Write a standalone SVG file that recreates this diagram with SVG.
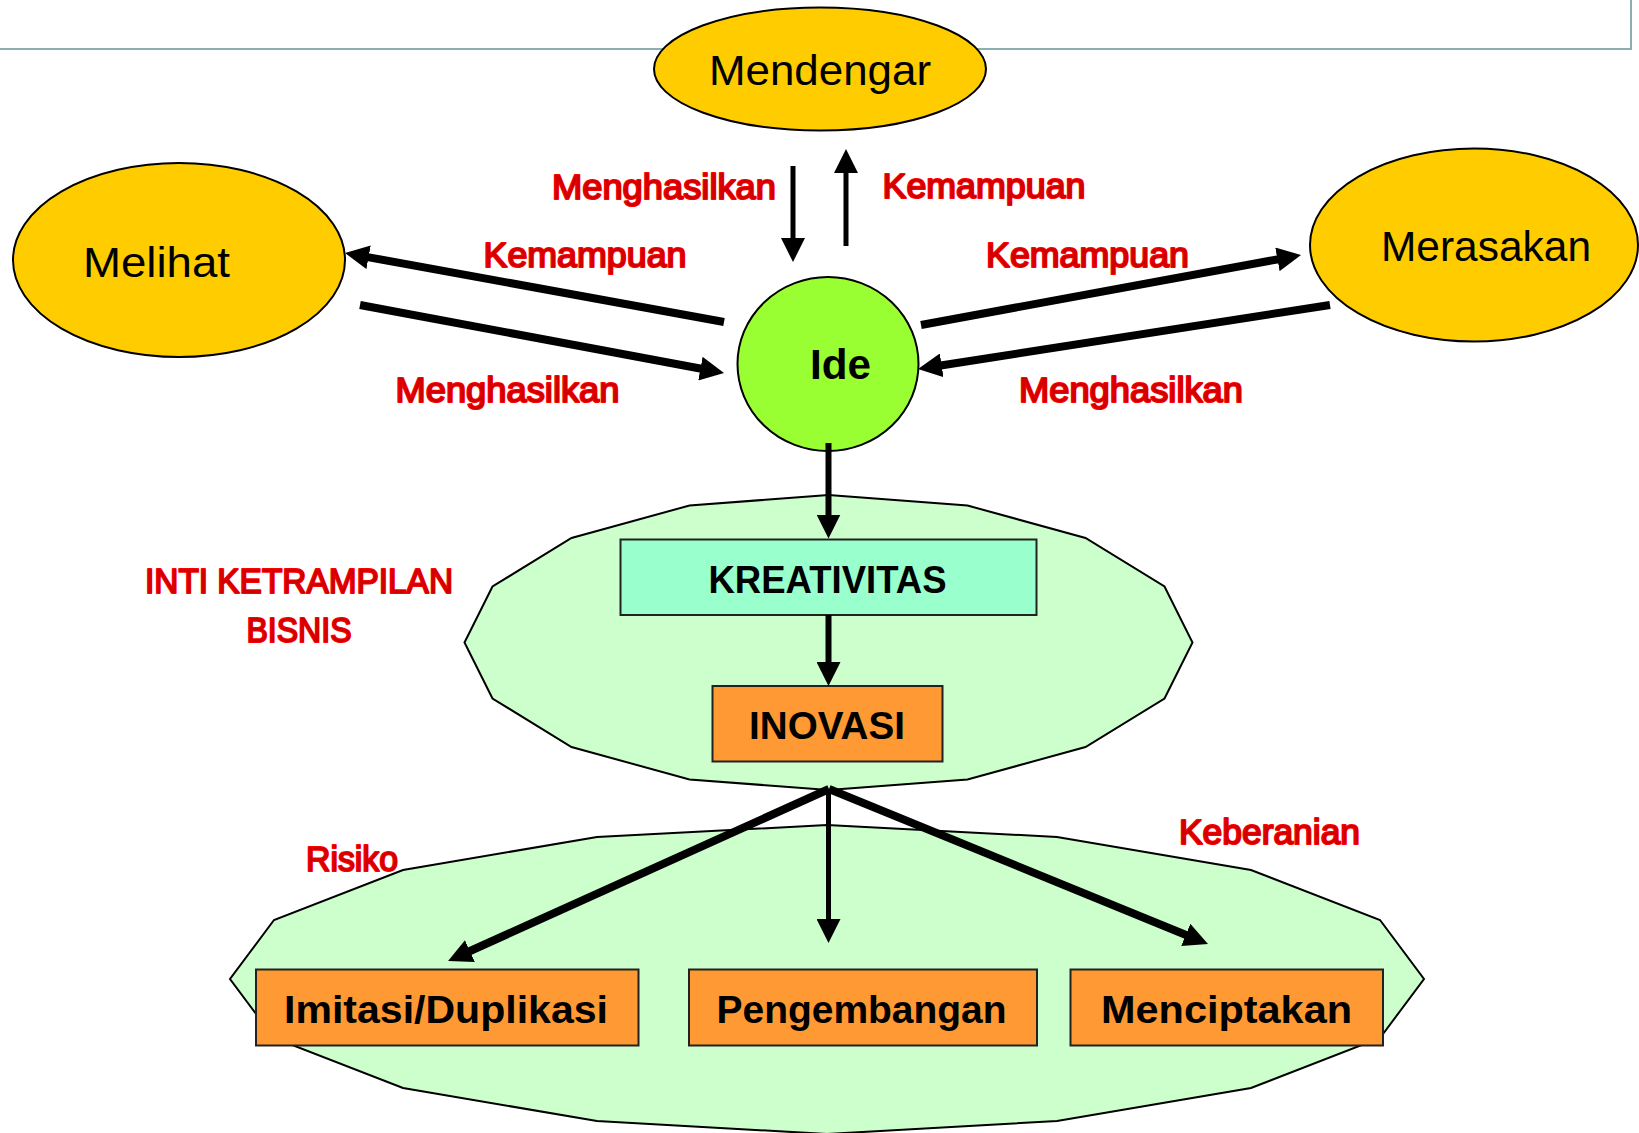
<svg xmlns="http://www.w3.org/2000/svg" width="1639" height="1133" viewBox="0 0 1639 1133">
<style>
.ell{fill:#FFCC00;stroke:#000;stroke-width:2}
.nt{font-family:"Liberation Sans",Arial,sans-serif;font-size:42px;fill:#000;text-anchor:middle}
.bt{font-family:"Liberation Sans",Arial,sans-serif;font-weight:bold;font-size:38px;fill:#000;text-anchor:middle}
.box{stroke:#222;stroke-width:2}
.lbl{font-family:"Liberation Sans",Arial,sans-serif;font-size:35px;fill:#D00000;stroke:#FF0000;stroke-width:2;paint-order:stroke;stroke-linejoin:round;text-anchor:middle}
.poly{fill:#CCFFCC;stroke:#000;stroke-width:2}
.a{stroke:#000;fill:none;marker-end:url(#ah)}
</style>
<defs>
<marker id="ah" markerUnits="userSpaceOnUse" markerWidth="24" markerHeight="24" viewBox="0 -12 24 24" refX="1" refY="0" orient="auto">
<path d="M0,-12 L24,0 L0,12 z" fill="#000"/>
</marker>
</defs>

<g id="frame">
<path d="M0,49 L1631,49 L1631,0" fill="none" stroke="#8AB0B2" stroke-width="2"/>
</g>

<g id="core-region">
<polygon class="poly" points="828.5,495 967.5,505.5 1085.5,538 1164.5,586.5 1192.5,642.5 1164.5,698.5 1085.5,747 967.5,779.5 828.5,790 689.5,779.5 571.5,747 492.5,698.5 464.5,642.5 492.5,586.5 571.5,538 689.5,505.5"/>
</g>
<g id="outcome-region">
<polygon class="poly" points="827,825 1057,837 1251,870 1380,920 1424,979 1380,1038 1251,1088 1057,1121 827,1134 597,1121 403,1088 274,1038 230,979 274,920 403,870 597,837"/>
</g>

<g id="mendengar">
<ellipse class="ell" cx="820" cy="69" rx="166" ry="61.5"/>
<text class="nt" x="820" y="85" textLength="222" lengthAdjust="spacingAndGlyphs">Mendengar</text>
</g>
<g id="melihat">
<ellipse class="ell" cx="179" cy="260" rx="166" ry="97"/>
<text class="nt" x="156.5" y="277" textLength="147" lengthAdjust="spacingAndGlyphs">Melihat</text>
</g>
<g id="merasakan">
<ellipse class="ell" cx="1474" cy="245" rx="164" ry="96.5"/>
<text class="nt" x="1486" y="261" textLength="210" lengthAdjust="spacingAndGlyphs">Merasakan</text>
</g>
<g id="ide">
<ellipse cx="828" cy="364" rx="90.5" ry="87" fill="#99FF33" stroke="#000" stroke-width="2"/>
<text class="nt" x="840.5" y="379" font-weight="bold" textLength="61" lengthAdjust="spacingAndGlyphs">Ide</text>
</g>
<g id="kreativitas">
<rect class="box" x="620.5" y="539.5" width="416" height="75.5" fill="#99FFCC"/>
<text class="bt" x="827.5" y="592.5" textLength="238" lengthAdjust="spacingAndGlyphs">KREATIVITAS</text>
</g>
<g id="inovasi">
<rect class="box" x="712.5" y="686" width="230" height="75.5" fill="#FF9933"/>
<text class="bt" x="827" y="738.5" textLength="156" lengthAdjust="spacingAndGlyphs">INOVASI</text>
</g>
<g id="imitasi">
<rect class="box" x="256" y="969.5" width="382.5" height="76" fill="#FF9933"/>
<text class="bt" x="446" y="1022.5" textLength="324" lengthAdjust="spacingAndGlyphs">Imitasi/Duplikasi</text>
</g>
<g id="pengembangan">
<rect class="box" x="689" y="969.5" width="348" height="76" fill="#FF9933"/>
<text class="bt" x="861.5" y="1022.5" textLength="290" lengthAdjust="spacingAndGlyphs">Pengembangan</text>
</g>
<g id="menciptakan">
<rect class="box" x="1070.5" y="969.5" width="312.5" height="76" fill="#FF9933"/>
<text class="bt" x="1226.5" y="1022.5" textLength="251" lengthAdjust="spacingAndGlyphs">Menciptakan</text>
</g>

<g id="connectors">
<line class="a" x1="793" y1="166" x2="793" y2="239" stroke-width="5"/>
<line class="a" x1="846" y1="246" x2="846" y2="172" stroke-width="5"/>
<line class="a" x1="724" y1="322" x2="367.6" y2="257.1" stroke-width="8"/>
<line class="a" x1="360" y1="305" x2="701.4" y2="368.8" stroke-width="8"/>
<line class="a" x1="921" y1="325" x2="1278.4" y2="259.2" stroke-width="8"/>
<line class="a" x1="1330" y1="305" x2="940.7" y2="365.5" stroke-width="8"/>
<line class="a" x1="828.5" y1="443" x2="828.5" y2="515.5" stroke-width="6"/>
<line class="a" x1="828.5" y1="615" x2="828.5" y2="663" stroke-width="6"/>
<line class="a" x1="829" y1="789" x2="469" y2="951.5" stroke-width="8"/>
<line class="a" x1="828.5" y1="789" x2="828.5" y2="920" stroke-width="5"/>
<line class="a" x1="829" y1="789" x2="1186.7" y2="935.3" stroke-width="8"/>
</g>

<g id="labels">
<text class="lbl" x="664" y="199" textLength="224" lengthAdjust="spacingAndGlyphs">Menghasilkan</text>
<text class="lbl" x="984" y="198" textLength="203" lengthAdjust="spacingAndGlyphs">Kemampuan</text>
<text class="lbl" x="585" y="266.5" textLength="203" lengthAdjust="spacingAndGlyphs">Kemampuan</text>
<text class="lbl" x="1087.5" y="266.5" textLength="203" lengthAdjust="spacingAndGlyphs">Kemampuan</text>
<text class="lbl" x="507.5" y="401.5" textLength="224" lengthAdjust="spacingAndGlyphs">Menghasilkan</text>
<text class="lbl" x="1131" y="401.5" textLength="224" lengthAdjust="spacingAndGlyphs">Menghasilkan</text>
<text class="lbl" x="299" y="592.5" font-size="32.5" textLength="308" lengthAdjust="spacingAndGlyphs">INTI KETRAMPILAN</text>
<text class="lbl" x="299" y="641.5" font-size="32.5" textLength="105" lengthAdjust="spacingAndGlyphs">BISNIS</text>
<text class="lbl" x="352" y="870.5" font-size="33.5" textLength="92" lengthAdjust="spacingAndGlyphs">Risiko</text>
<text class="lbl" x="1269.5" y="843.5" textLength="181" lengthAdjust="spacingAndGlyphs">Keberanian</text>
</g>
</svg>
